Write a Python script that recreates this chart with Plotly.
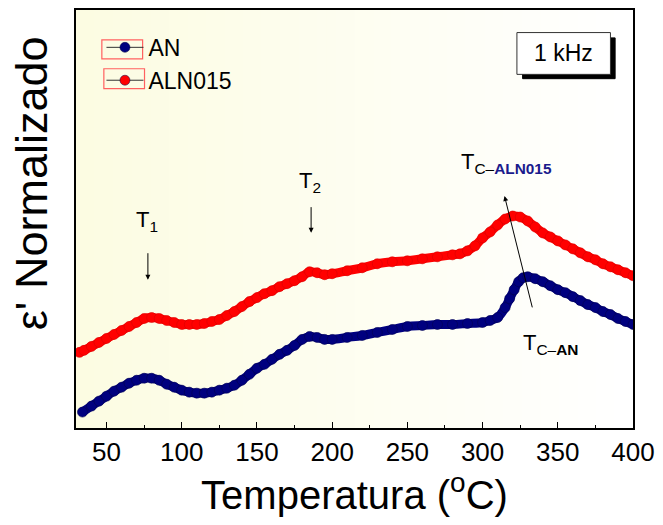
import plotly.graph_objects as go

# ---------------- data ----------------
T_AN = [34, 40, 45, 50, 55, 60, 65, 70, 75, 80, 85, 90, 95, 100, 105, 110, 115, 120,
        125, 130, 135, 140, 145, 150, 155, 160, 165, 170, 175, 180, 185, 190, 195, 200,
        210, 220, 230, 240, 250, 260, 270, 280, 290, 300, 305, 310, 315, 318, 321, 324,
        327, 330, 335, 340, 345, 350, 355, 360, 365, 370, 375, 380, 385, 390, 395, 400]
E_AN = [0.16, 0.22, 0.27, 0.32, 0.37, 0.41, 0.45, 0.48, 0.50, 0.50, 0.48, 0.44, 0.41,
        0.38, 0.36, 0.35, 0.35, 0.36, 0.38, 0.40, 0.43, 0.48, 0.54, 0.60, 0.64, 0.69,
        0.74, 0.78, 0.83, 0.89, 0.92, 0.91, 0.89, 0.89, 0.91, 0.93, 0.96, 0.99, 1.02,
        1.03, 1.04, 1.04, 1.05, 1.06, 1.08, 1.11, 1.21, 1.30, 1.39, 1.47, 1.51, 1.52,
        1.50, 1.47, 1.43, 1.39, 1.36, 1.32, 1.28, 1.24, 1.21, 1.17, 1.14, 1.10, 1.07, 1.04]

T_ALN = [32, 35, 40, 45, 50, 55, 60, 65, 70, 75, 80, 85, 90, 95, 100, 105, 110, 115,
         120, 125, 130, 135, 140, 145, 150, 155, 160, 165, 170, 175, 180, 185, 190, 195,
         200, 210, 220, 230, 240, 250, 260, 270, 280, 285, 290, 295, 300, 305, 310, 315,
         320, 325, 330, 335, 340, 345, 350, 355, 360, 365, 370, 375, 380, 385, 390, 395, 400]
E_ALN = [0.76, 0.78, 0.82, 0.86, 0.90, 0.94, 0.98, 1.02, 1.06, 1.10, 1.11, 1.10, 1.08,
         1.06, 1.04, 1.04, 1.04, 1.05, 1.07, 1.09, 1.13, 1.17, 1.22, 1.27, 1.31, 1.35,
         1.38, 1.42, 1.45, 1.48, 1.52, 1.57, 1.56, 1.54, 1.55, 1.58, 1.61, 1.65, 1.67,
         1.68, 1.70, 1.72, 1.74, 1.75, 1.78, 1.83, 1.91, 1.97, 2.04, 2.10, 2.13, 2.12,
         2.08, 2.02, 1.96, 1.92, 1.88, 1.84, 1.80, 1.76, 1.72, 1.69, 1.65, 1.62, 1.59,
         1.56, 1.53]

SERIES = ["AN", "ALN015"]
X_TICKS = [50, 100, 150, 200, 250, 300, 350, 400]

NAVY = "#00007f"
RED = "#ff0000"
FONT = "Arial, Liberation Sans, sans-serif"

fig = go.Figure()

# data bands (thick line + overlapping circles)
for T, E, col, edge in [(T_AN, E_AN, NAVY, "#000050"), (T_ALN, E_ALN, RED, "#d80000")]:
    fig.add_trace(go.Scatter(x=T, y=E, mode="lines+markers", showlegend=False,
                             line=dict(color=col, width=9, shape="spline"),
                             marker=dict(size=10, color=col, line=dict(color=edge, width=0.6)),
                             hoverinfo="skip"))

# legend-only entries
for name, col in zip(SERIES, [NAVY, RED]):
    fig.add_trace(go.Scatter(x=[None], y=[None], mode="lines+markers", name=name,
                             line=dict(color="#333333", width=1),
                             marker=dict(size=10, color=col, line=dict(color="#000040", width=0.5))))

shapes = []
# background gradient (pale yellow -> white)
N = 60
c0 = (252, 252, 226)
for i in range(N):
    f = i / (N - 1)
    r = round(c0[0] + (255 - c0[0]) * f)
    g = round(c0[1] + (255 - c0[1]) * f)
    b = round(c0[2] + (255 - c0[2]) * f)
    shapes.append(dict(type="rect", xref="paper", yref="paper", x0=i / N, x1=(i + 1) / N + 0.002,
                       y0=0, y1=1, fillcolor=f"rgb({r},{g},{b})", line=dict(width=0), layer="below"))

# legend symbol boxes (red outline)
shapes.append(dict(type="rect", xref="paper", yref="paper", x0=0.0464, x1=0.1196, y0=0.883, y1=0.9286,
                   line=dict(color="#ff6060", width=1.2)))
shapes.append(dict(type="rect", xref="paper", yref="paper", x0=0.050, x1=0.123, y0=0.812, y1=0.8595,
                   line=dict(color="#ff6060", width=1.2)))

# 1 kHz box with shadow
shapes.append(dict(type="rect", xref="paper", yref="paper", x0=0.8018, x1=0.9679, y0=0.8357, y1=0.9333,
                   fillcolor="black", line=dict(color="black", width=1)))
shapes.append(dict(type="rect", xref="paper", yref="paper", x0=0.7916, x1=0.9595, y0=0.846, y1=0.946,
                   fillcolor="white", line=dict(color="#333333", width=1)))

annotations = [
    dict(xref="paper", yref="paper", x=0.8755, y=0.896, xanchor="center", yanchor="middle",
         text="1 kHz", showarrow=False, font=dict(family=FONT, size=23, color="black")),
    # y-axis title
    dict(xref="paper", yref="paper", x=-0.0804, y=0.586, xanchor="center", yanchor="middle",
         textangle=-90, text="\u03b5' Normalizado", showarrow=False,
         font=dict(family=FONT, size=45, color="black")),
    # T1
    dict(x=77.0, y=2.08, xanchor="center", yanchor="middle", text="T<sub>1</sub>", showarrow=False,
         font=dict(family=FONT, size=22, color="black")),
    dict(x=77.5, y=1.49, ax=0, ay=-28, text="", showarrow=True, arrowhead=2, arrowsize=1,
         arrowwidth=1, arrowcolor="black"),
    # T2
    dict(x=185.5, y=2.47, xanchor="center", yanchor="middle", text="T<sub>2</sub>", showarrow=False,
         font=dict(family=FONT, size=22, color="black")),
    dict(x=186.0, y=1.963, ax=0, ay=-27, text="", showarrow=True, arrowhead=2, arrowsize=1,
         arrowwidth=1, arrowcolor="black"),
    # Tc arrow
    dict(x=314.6, y=2.33, ax=333.3, ay=1.197, axref="x", ayref="y", text="", showarrow=True,
         arrowhead=2, arrowsize=1, arrowwidth=1, arrowcolor="black"),
    dict(x=284.1, y=2.66, xanchor="left", yanchor="middle",
         text="T<sub>C\u2013<b><span style='color:#1a1a8c'>ALN015</span></b></sub>",
         showarrow=False, font=dict(family=FONT, size=22, color="black")),
    dict(x=325.8, y=0.84, xanchor="left", yanchor="middle", text="T<sub>C\u2013<b>AN</b></sub>",
         showarrow=False, font=dict(family=FONT, size=22, color="black")),
]

fig.update_layout(
    width=663, height=525,
    margin=dict(l=76, r=27, t=8, b=97),
    paper_bgcolor="white", plot_bgcolor="white",
    font=dict(family=FONT, color="black"),
    shapes=shapes, annotations=annotations,
    legend=dict(x=0.0457, y=0.962, xanchor="left", yanchor="top", bgcolor="rgba(0,0,0,0)",
                font=dict(family=FONT, size=23), tracegroupgap=0, itemwidth=37),
    xaxis=dict(range=[29.7, 400], tickvals=X_TICKS, ticktext=[str(v) for v in X_TICKS],
               ticks="inside", ticklen=6, tickwidth=1, tickcolor="black",
               minor=dict(ticks="inside", ticklen=3, dtick=25, tick0=0, tickcolor="black"),
               showline=True, linecolor="black", linewidth=1.5, mirror=True,
               showgrid=False, zeroline=False,
               tickfont=dict(family=FONT, size=26),
               title=dict(text="Temperatura (<sup>o</sup>C)", font=dict(family=FONT, size=40), standoff=6)),
    yaxis=dict(range=[0, 4.2], showticklabels=False, ticks="", showline=True, linecolor="black",
               linewidth=1.5, mirror=True, showgrid=False, zeroline=False),
)

fig.write_html("out.html")
